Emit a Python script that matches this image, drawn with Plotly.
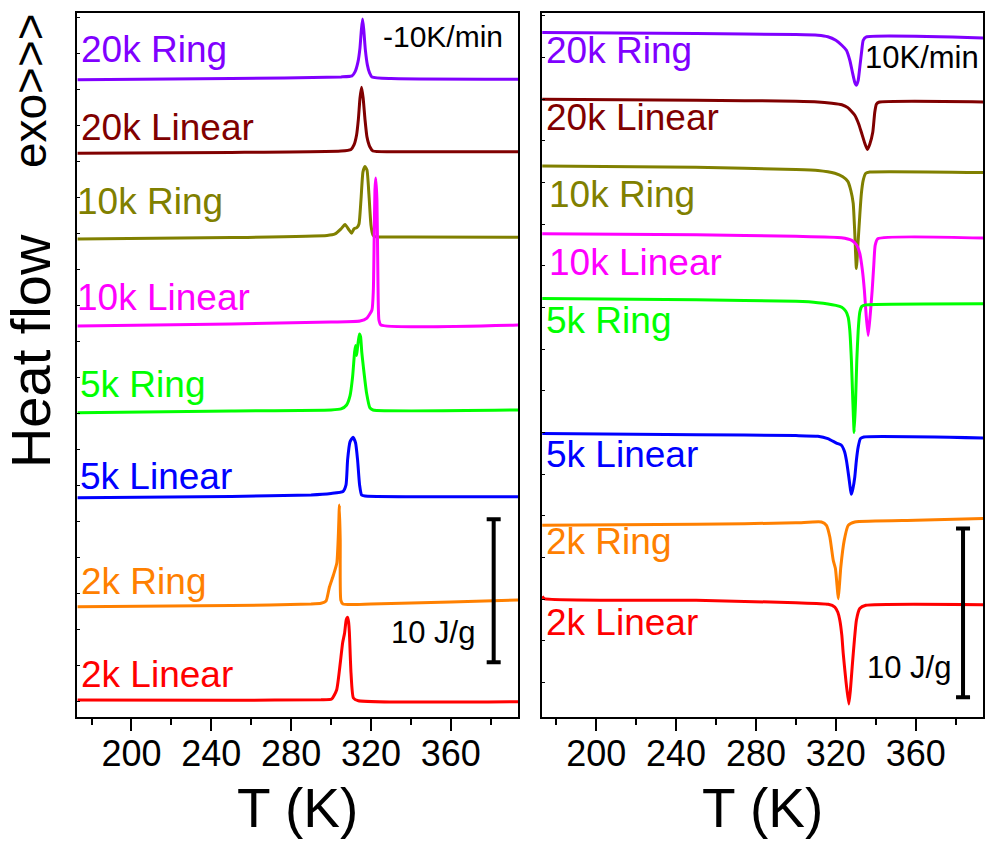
import plotly.graph_objects as go

# ---------------- DATA ----------------
# Left panel: cooling (-10 K/min), exothermic peaks (heat flow in J/g, relative to baseline)
c20r_T = [173, 250, 305, 310.5, 312, 313.5, 314.5, 315.2, 315.8, 316.4, 317.2, 318.2, 319.3, 320.5, 330, 394]
c20r_H = [0, 0.08, 0.19, 0.26, 0.54, 1.24, 2.22, 3.48, 4.24, 3.48, 2.08, 1.03, 0.47, 0.19, 0.08, 0.03]
c20r_off = 44.57

c20l_T = [173, 250, 305, 310, 311.5, 312.8, 313.7, 314.5, 315.3, 316.1, 317, 318, 319.5, 321, 330, 394]
c20l_H = [0, 0.06, 0.16, 0.27, 0.58, 1.28, 2.39, 3.85, 4.62, 3.85, 2.39, 1.15, 0.44, 0.16, 0.11, 0.11]
c20l_off = 39.42

c10r_T = [173, 250, 298, 302, 305, 307, 309, 310.3, 311.5, 313, 314, 315, 316, 317, 318, 319, 320, 321, 322, 340, 394]
c10r_H = [0, 0.10, 0.24, 0.35, 0.70, 1.01, 0.63, 0.40, 0.70, 0.80, 1.05, 2.73, 4.69, 5.06, 4.83, 3.08, 0.98, 0.28, 0.16, 0.14, 0.12]
c10r_off = 33.43

c10l_T = [173, 250, 300, 314.5, 318, 320.5, 321.2, 321.6, 322, 322.4, 323, 323.5, 324, 325, 394]
c10l_H = [0, 0.14, 0.28, 0.35, 0.56, 1.12, 2.52, 6.01, 9.51, 10.35, 8.81, 3.22, 0.42, 0.07, 0.07]
c10l_off = 27.34

c5r_T = [173, 250, 300, 305, 307.8, 309.5, 310.8, 311.8, 312.3, 312.8, 313.3, 314.2, 314.8, 315.4, 316.2, 317.8, 319.5, 321, 394]
c5r_H = [0, 0.12, 0.19, 0.26, 0.54, 1.17, 2.50, 4.24, 4.70, 4.00, 4.60, 5.50, 5.30, 4.24, 3.20, 1.38, 0.33, 0.19, 0.19]
c5r_off = 21.28

c5l_T = [173, 250, 290, 300, 306, 307.5, 308.3, 309.5, 311, 312.3, 313.3, 314.3, 315.3, 317, 394]
c5l_H = [0, 0.08, 0.19, 0.29, 0.43, 0.89, 2.64, 3.90, 4.22, 3.82, 2.64, 0.89, 0.19, 0.12, 0.07]
c5l_off = 15.34

c2r_T = [173, 250, 290, 295, 297.5, 299.2, 301.2, 302.9, 303.7, 304.2, 304.6, 304.9, 306, 320, 360, 394]
c2r_H = [0, 0.08, 0.19, 0.24, 0.40, 1.38, 2.22, 3.06, 5.15, 7.11, 4.66, 0.47, 0.19, 0.19, 0.33, 0.47]
c2r_off = 7.71

c2l_T = [173, 250, 295, 300.3, 302.8, 304.8, 305.8, 306.8, 307.6, 308.3, 308.8, 309.2, 310, 311.2, 313.7, 394]
c2l_H = [0, -0.02, 0.02, 0.07, 0.70, 2.80, 3.99, 4.69, 5.59, 5.78, 5.45, 4.69, 1.89, 0.14, -0.05, -0.12]
c2l_off = 1.19

# Right panel: heating (10 K/min), endothermic peaks
h20r_T = [173, 250, 300, 311, 316, 320, 323, 325.3, 327, 328.3, 329.5, 330.3, 331.2, 332, 333, 333.7, 335.3, 394]
h20r_H = [0, -0.06, -0.12, -0.16, -0.25, -0.46, -0.75, -1.05, -1.64, -2.35, -2.95, -3.12, -2.83, -2.06, -1.05, -0.46, -0.26, -0.32]
h20r_off = 40.57

h20l_T = [173, 250, 300, 311, 318, 323, 326, 329.5, 331.5, 332.8, 334.5, 335.8, 337, 338.5, 339.5, 340.3, 341.5, 394]
h20l_H = [0, -0.06, -0.12, -0.16, -0.24, -0.33, -0.50, -0.95, -1.48, -1.96, -2.61, -2.98, -2.67, -1.96, -0.77, -0.30, -0.18, -0.16]
h20l_off = 36.62

h10r_T = [173, 250, 300, 311, 319.5, 323.5, 326, 327.5, 328.7, 329.5, 330.3, 331.2, 332, 332.8, 333.7, 335, 337, 394]
h10r_H = [0, -0.08, -0.20, -0.26, -0.43, -0.64, -0.91, -1.44, -2.21, -3.99, -6.08, -4.41, -2.92, -1.62, -0.85, -0.43, -0.36, -0.39]
h10r_off = 32.66

h10l_T = [173, 250, 300, 322.8, 328, 330.5, 332, 333.3, 334.3, 335.2, 336.2, 337.2, 338.2, 339, 339.7, 341, 394]
h10l_H = [0, -0.07, -0.16, -0.24, -0.40, -0.69, -1.17, -2.17, -3.36, -4.84, -6.03, -4.84, -3.36, -1.88, -0.69, -0.30, -0.26]
h10l_off = 28.65

h5r_T = [173, 250, 300, 311, 320, 323, 325, 326.2, 327, 327.8, 328.5, 329.2, 329.9, 330.5, 331.2, 332, 333, 335, 394]
h5r_H = [0, -0.07, -0.16, -0.24, -0.40, -0.51, -0.75, -1.11, -1.88, -3.66, -6.03, -7.94, -6.03, -3.66, -1.88, -0.81, -0.46, -0.37, -0.30]
h5r_off = 24.80

h5l_T = [173, 250, 300, 311, 316, 320.3, 322.8, 324.3, 325.3, 326.5, 327.3, 327.8, 328.5, 329.5, 330.3, 331.2, 332.3, 334, 394]
h5l_H = [0, -0.07, -0.12, -0.16, -0.30, -0.56, -0.69, -1.05, -1.58, -2.57, -3.30, -3.60, -3.30, -2.57, -1.58, -0.79, -0.30, -0.20, -0.26]
h5l_off = 16.80

h2r_T = [173, 250, 300, 312.8, 315.3, 317, 318.7, 319.8, 320.6, 321.2, 321.8, 322.5, 324.2, 326.2, 329.5, 360, 394]
h2r_H = [0, 0.06, 0.15, 0.20, 0, -0.69, -2.07, -2.56, -3.56, -4.35, -3.56, -2.47, -0.89, 0, 0.20, 0.30, 0.40]
h2r_off = 11.36

h2l_T = [173, 174, 250, 300, 316.2, 319.5, 321, 322, 323, 323.7, 325, 326.5, 327.3, 328.2, 329.3, 330.3, 332, 335, 394]
h2l_H = [0.14, 0, -0.10, -0.25, -0.34, -0.50, -0.81, -1.28, -2.17, -3.25, -4.82, -6.25, -5.42, -4.04, -2.46, -1.28, -0.59, -0.40, -0.36]
h2l_off = 7.02

labels = ["20k Ring", "20k Linear", "10k Ring", "10k Linear",
          "5k Ring", "5k Linear", "2k Ring", "2k Linear"]
colors = ["#8000FF", "#800000", "#808000", "#FF00FF",
          "#00FF00", "#0000FF", "#FF8000", "#FF0000"]

SCALE_BAR = 10  # J/g
x_ticks = [200, 240, 280, 320, 360]
x_minor = [180, 220, 260, 300, 340, 380]

# ---------------- FIGURE ----------------
FONT = "Liberation Sans, Arial, sans-serif"
W, H = 986, 841
ML, MR, MT, MB = 77, 1, 13, 124
PW, PH = W - ML - MR, H - MT - MB


def pxx(x):
    return (x - ML) / PW


def pxy(y):
    return (MT + PH - y) / PH


left_curves = [(c20r_T, c20r_H, c20r_off), (c20l_T, c20l_H, c20l_off),
               (c10r_T, c10r_H, c10r_off), (c10l_T, c10l_H, c10l_off),
               (c5r_T, c5r_H, c5r_off), (c5l_T, c5l_H, c5l_off),
               (c2r_T, c2r_H, c2r_off), (c2l_T, c2l_H, c2l_off)]
right_curves = [(h20r_T, h20r_H, h20r_off), (h20l_T, h20l_H, h20l_off),
                (h10r_T, h10r_H, h10r_off), (h10l_T, h10l_H, h10l_off),
                (h5r_T, h5r_H, h5r_off), (h5l_T, h5l_H, h5l_off),
                (h2r_T, h2r_H, h2r_off), (h2l_T, h2l_H, h2l_off)]

fig = go.Figure()
for (T, Hf, off), name, col in zip(left_curves, labels, colors):
    fig.add_trace(go.Scatter(x=T, y=[off + h for h in Hf], mode="lines", name=name,
                             line=dict(color=col, width=3, shape="spline", smoothing=0.5),
                             xaxis="x", yaxis="y", showlegend=False, hoverinfo="skip"))
for (T, Hf, off), name, col in zip(right_curves, labels, colors):
    fig.add_trace(go.Scatter(x=T, y=[off + h for h in Hf], mode="lines", name=name,
                             line=dict(color=col, width=3, shape="spline", smoothing=0.5),
                             xaxis="x2", yaxis="y2", showlegend=False, hoverinfo="skip"))

# scale bars (10 J/g)
for xa, ya, xc, yc in [("x", "y", 381.5, 8.83), ("x2", "y2", 383.7, 6.17)]:
    fig.add_trace(go.Scatter(x=[xc], y=[yc], mode="markers",
                             marker=dict(color="rgba(0,0,0,0)", size=2),
                             error_y=dict(type="data", array=[SCALE_BAR / 2], symmetric=True,
                                          color="black", thickness=4, width=7),
                             xaxis=xa, yaxis=ya, showlegend=False, hoverinfo="skip"))

xcommon = dict(range=[172.7, 393.7], tickmode="array", tickvals=x_ticks,
               ticks="outside", ticklen=12, tickwidth=2, tickcolor="black",
               ticklabelstandoff=-8,
               minor=dict(tickmode="array", tickvals=x_minor,
                          ticks="outside", ticklen=6, tickwidth=2, tickcolor="black"),
               showline=True, linewidth=2, linecolor="black", mirror=True,
               showgrid=False, zeroline=False,
               tickfont=dict(family=FONT, size=36, color="black"))
ycommon = dict(showticklabels=False, ticks="inside", ticklen=3, tickwidth=1, tickcolor="black",
               showline=True, linewidth=2, linecolor="black", mirror=True,
               showgrid=False, zeroline=False)

fig.update_layout(
    width=W, height=H, margin=dict(l=ML, r=MR, t=MT, b=MB),
    paper_bgcolor="white", plot_bgcolor="white", showlegend=False,
    font=dict(family=FONT, color="black"),
    xaxis=dict(domain=[0, pxx(519)], anchor="y", **xcommon),
    xaxis2=dict(domain=[pxx(542.7), 1], anchor="y2", **xcommon),
    yaxis=dict(domain=[0, 1], anchor="x", range=[0, 49.23], tick0=1.05, dtick=2.52, **ycommon),
    yaxis2=dict(domain=[0, 1], anchor="x2", range=[0, 41.73], tick0=2.04, dtick=2.47, **ycommon),
)

ann = []
left_lab_pos = [(79, 49), (79, 127), (75, 202), (75, 297), (78, 384), (78, 476), (79, 581), (79, 674)]
right_lab_pos = [(545, 51), (545, 117.5), (548, 194), (548, 262), (545, 320), (545, 454), (545, 541), (545, 622)]
for (x, y), t, c in zip(left_lab_pos, labels, colors):
    ann.append(dict(x=pxx(x), y=pxy(y), xref="paper", yref="paper", text=t, showarrow=False,
                    xanchor="left", yanchor="middle", font=dict(family=FONT, size=37, color=c)))
for (x, y), t, c in zip(right_lab_pos, labels, colors):
    ann.append(dict(x=pxx(x), y=pxy(y), xref="paper", yref="paper", text=t, showarrow=False,
                    xanchor="left", yanchor="middle", font=dict(family=FONT, size=37, color=c)))

ann += [
    dict(x=pxx(444), y=pxy(36), xref="paper", yref="paper", text="-10K/min", showarrow=False,
         xanchor="center", yanchor="middle", font=dict(family=FONT, size=30, color="black")),
    dict(x=pxx(924), y=pxy(57), xref="paper", yref="paper", text="10K/min", showarrow=False,
         xanchor="center", yanchor="middle", font=dict(family=FONT, size=31, color="black")),
    dict(x=pxx(478), y=pxy(632), xref="paper", yref="paper", text="10 J/g", showarrow=False,
         xanchor="right", yanchor="middle", font=dict(family=FONT, size=31, color="black")),
    dict(x=pxx(955), y=pxy(667), xref="paper", yref="paper", text="10 J/g", showarrow=False,
         xanchor="right", yanchor="middle", font=dict(family=FONT, size=31, color="black")),
    dict(x=pxx(298), y=pxy(808), xref="paper", yref="paper", text="T (K)", showarrow=False,
         xanchor="center", yanchor="middle", font=dict(family=FONT, size=55, color="black")),
    dict(x=pxx(764), y=pxy(808), xref="paper", yref="paper", text="T (K)", showarrow=False,
         xanchor="center", yanchor="middle", font=dict(family=FONT, size=55, color="black")),
    dict(x=pxx(30), y=pxy(351), xref="paper", yref="paper", text="Heat flow", showarrow=False,
         textangle=-90, xanchor="center", yanchor="middle", font=dict(family=FONT, size=56, color="black")),
    dict(x=pxx(30), y=pxy(91), xref="paper", yref="paper", text="exo&gt;&gt;&gt;", showarrow=False,
         textangle=-90, xanchor="center", yanchor="middle", font=dict(family=FONT, size=46, color="black")),
]
fig.update_layout(annotations=ann)

fig.write_html("out.html")
